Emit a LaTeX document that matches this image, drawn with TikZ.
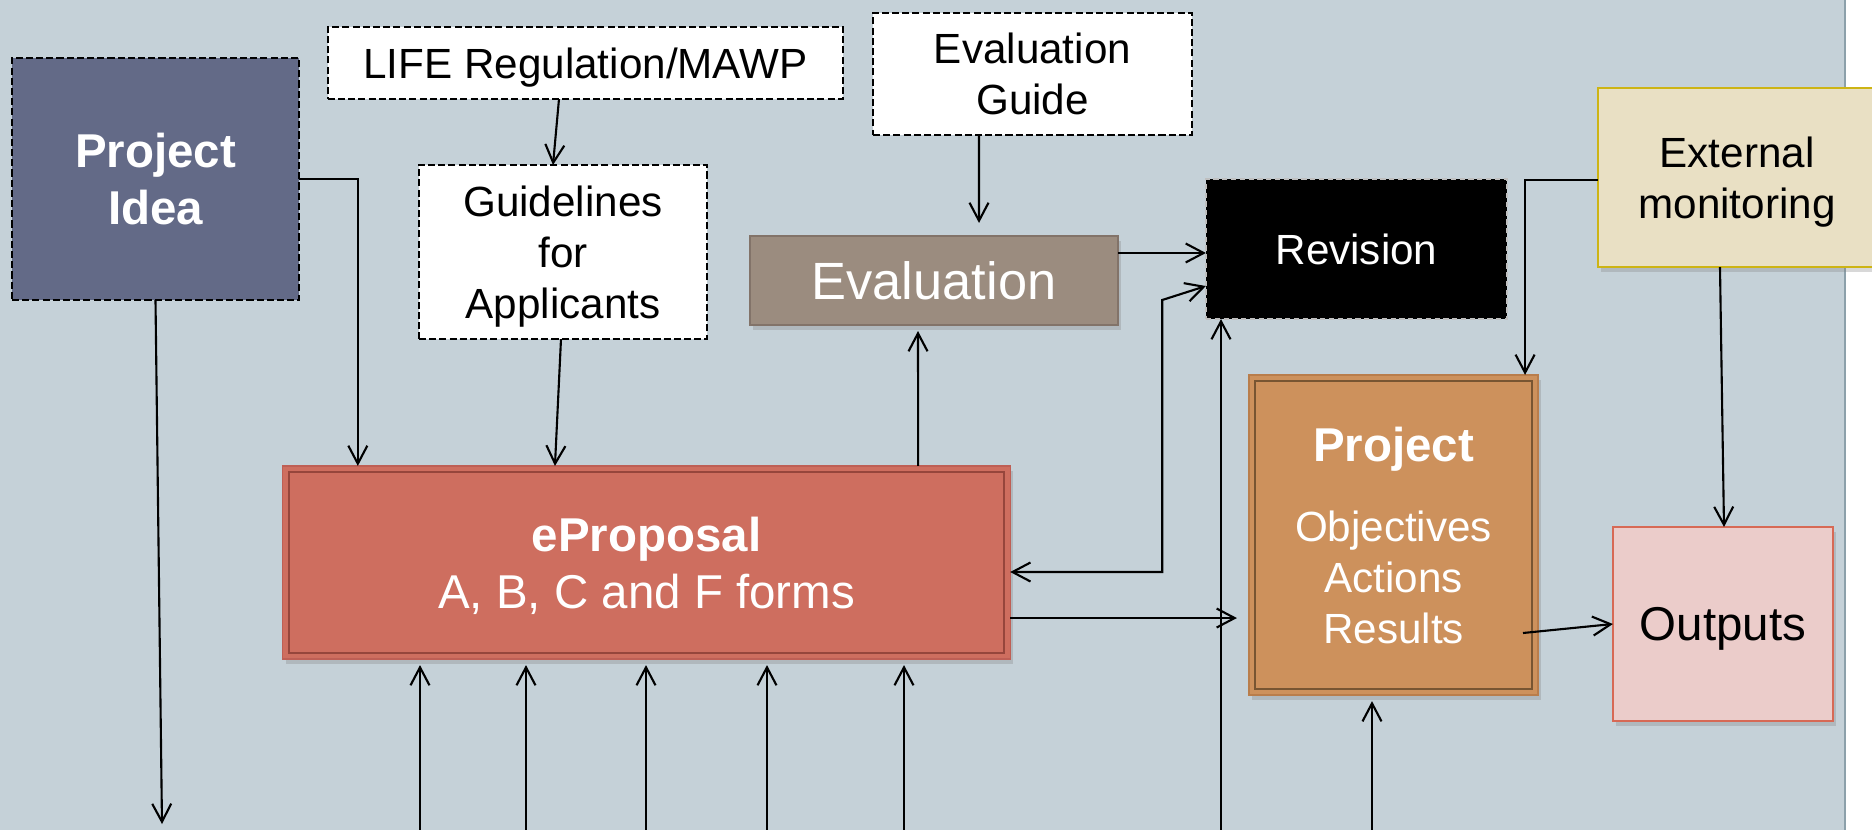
\documentclass[tikz,border=0pt]{standalone}
\usepackage{fontspec}
\setmainfont{Liberation Sans}
\usetikzlibrary{arrows.meta, shadows}
\usepackage{xcolor}
\definecolor{bgblue}{RGB}{197,209,216}
\definecolor{bgedge}{RGB}{140,160,170}
\definecolor{ideablue}{RGB}{99,106,135}
\definecolor{evalgray}{RGB}{155,140,127}
\definecolor{evalline}{RGB}{130,115,105}
\definecolor{epred}{RGB}{206,110,95}
\definecolor{epline}{RGB}{150,70,60}
\definecolor{epedge}{RGB}{190,95,85}
\definecolor{projtan}{RGB}{205,145,92}
\definecolor{projline}{RGB}{120,85,50}
\definecolor{projedge}{RGB}{185,125,75}
\definecolor{extcream}{RGB}{233,224,196}
\definecolor{extline}{RGB}{205,180,20}
\definecolor{outpink}{RGB}{235,204,202}
\definecolor{outline}{RGB}{215,105,85}
\newcommand{\fsmall}{\fontsize{12}{14.5}\selectfont}
\newcommand{\fbig}{\fontsize{13.5}{16.2}\selectfont}
\newcommand{\fhuge}{\fontsize{14.9}{17.9}\selectfont}

\begin{document}
\begin{tikzpicture}[x=0.01cm, y=-0.01cm,
  note/.style={rectangle, draw, fill=white, dash pattern=on 2pt off 0.9pt, line width=0.6pt,
               align=center, font=\fsmall, inner sep=0pt, outer sep=0pt, text depth=0pt},
  box/.style={rectangle, align=center, inner sep=0pt, outer sep=0pt, text=white, text depth=0pt},
  shad/.style={drop shadow={shadow xshift=0.03cm, shadow yshift=-0.05cm, opacity=0.3}},
  arr/.style={-{Straight Barb[length=1.8mm, width=1.9mm]}, line width=0.6pt},
  arrboth/.style={{Straight Barb[length=1.8mm, width=1.9mm]}-{Straight Barb[length=1.8mm, width=1.9mm]}, line width=0.6pt}
]
\useasboundingbox (0,0) rectangle (1872,830);
\fill[white] (0,0) rectangle (1872,830);
\fill[bgblue] (0,0) rectangle (1845,830);
\draw[bgedge, line width=0.6pt] (1845,0) -- (1845,830);

\node[box, draw, dash pattern=on 2pt off 0.9pt, line width=0.6pt, fill=ideablue, font=\fbig\bfseries,
      minimum width=2.87cm, minimum height=2.42cm] (idea) at (155.5,179) {Project\\Idea};
\node[note, minimum width=5.15cm, minimum height=0.72cm] (life) at (585.5,63) {LIFE Regulation/MAWP};
\node[note, minimum width=3.19cm, minimum height=1.22cm] (evguide) at (1032.5,74) {Evaluation\\Guide};
\node[note, minimum width=2.88cm, minimum height=1.74cm] (guide) at (563,252) {Guidelines\\for\\Applicants};
\node[box, shad, draw=evalline, fill=evalgray, font=\fhuge,
      minimum width=3.68cm, minimum height=0.89cm] (eval) at (934,280.5) {Evaluation};
\node[box, fill=black, draw=white!75!black, dash pattern=on 1.5pt off 1pt, line width=0.4pt, font=\fsmall,
      minimum width=3.01cm, minimum height=1.40cm] (rev) at (1356.5,249) {Revision};
\node[box, shad, draw=extline, line width=0.8pt, fill=extcream, text=black, font=\fsmall,
      minimum width=2.78cm, minimum height=1.79cm] (ext) at (1737,177.5) {External\\monitoring};
\node[box, shad, draw=epedge, fill=epred, font=\fbig,
      minimum width=7.27cm, minimum height=1.93cm] (ep) at (646.5,562.5) {\textbf{eProposal}\\A, B, C and F forms};
\node[box, shad, draw=projedge, fill=projtan, font=\fsmall,
      minimum width=2.89cm, minimum height=3.20cm] (proj) at (1393.5,535) {{\fbig\bfseries Project}\\[0.29cm]Objectives\\Actions\\Results};
\node[box, shad, draw=outline, line width=0.8pt, fill=outpink, text=black, font=\fbig,
      minimum width=2.20cm, minimum height=1.94cm] (out) at (1723,624) {Outputs};

\foreach \n/\c in {ep/epline, proj/projline}
  \draw[\c, line width=0.6pt] ([shift={(6,6)}]\n.north west) rectangle ([shift={(-6,-6)}]\n.south east);

\coordinate (ideaend) at (162,824);
\draw[arr] (idea.south) -- (ideaend);
\draw[arr] (idea.east) -| ([xshift=0.75cm]ep.north west);
\draw[arr] ([xshift=-0.265cm]life.south) -- ([xshift=-0.10cm]guide.north);
\draw[arr] ([xshift=-0.02cm]guide.south) -- ([xshift=-0.915cm]ep.north);
\draw[arr, shorten >=0.13cm] ([xshift=-0.535cm]evguide.south) -- ([xshift=0.45cm]eval.north);
\draw[arr, shorten >=0.06cm] ([xshift=2.715cm]ep.north) -- ([xshift=-0.16cm]eval.south);
\draw[arr] ([yshift=0.275cm]eval.east) -- ([yshift=0.275cm]eval.east -| rev.west);
\draw[arrboth] ([yshift=-0.095cm]ep.east) -- ++(152,0) -- ++(0,-272) -- ([yshift=-0.37cm]rev.west);
\draw[arr, shorten >=0.12cm] ([yshift=-0.555cm]ep.east) -- ([yshift=-0.555cm]ep.east -| proj.west);
\draw[arr] ([yshift=-0.025cm]ext.west) -| ([xshift=1.315cm]proj.north);
\draw[arr] ([xshift=-0.17cm]ext.south) -- ([xshift=0.01cm]out.north);
\draw[arr] ([shift={(129.5,98)}]proj.center) -- (out.west);

\foreach \x in {420,526,646,767,904} {
  \coordinate (in\x) at (\x,830);
  \draw[arr, shorten >=0.06cm] (in\x) -- (in\x |- ep.south);
}
\coordinate (revin) at (1221,830);
\draw[arr] (revin) -- (revin |- rev.south);
\coordinate (projin) at (1372,830);
\draw[arr, shorten >=0.06cm] (projin) -- (projin |- proj.south);
\end{tikzpicture}
\end{document}
